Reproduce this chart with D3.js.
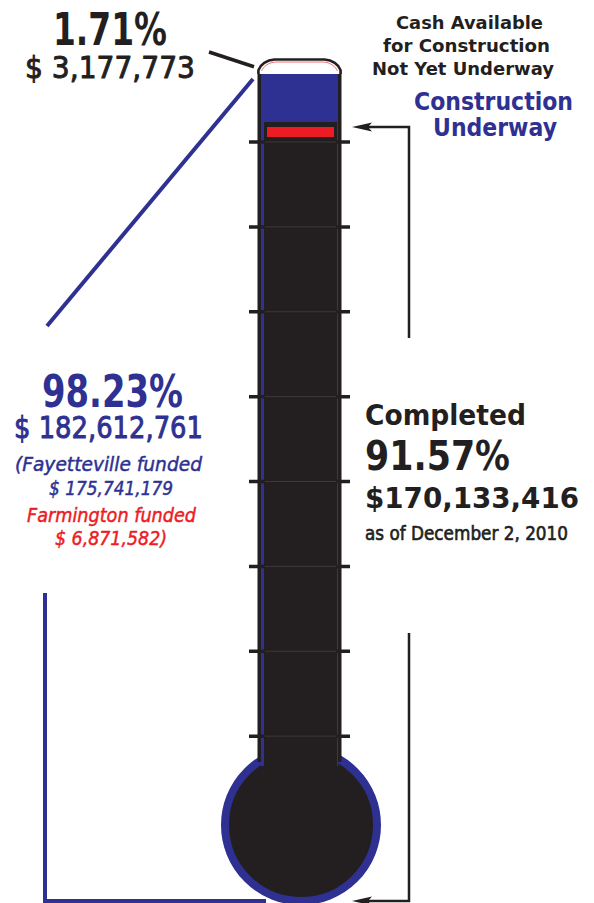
<!DOCTYPE html>
<html><head><meta charset="utf-8">
<script src="https://cdn.jsdelivr.net/npm/d3@7"></script>
<style>html,body{margin:0;padding:0;background:#fff;} svg{display:block;}</style>
</head><body>
<script>
// ---- data ----
const segmentNames = ["Completed", "Construction Underway", "Cash Available for Construction Not Yet Underway"];
const segmentLines = [["Completed"], ["Construction", "Underway"], ["Cash Available", "for Construction", "Not Yet Underway"]];
const segmentPercents = [91.57, 6.66, 1.71];
const segmentAmounts = [170133416, 12479345, 3177773];
const fundedPercent = 98.23;
const fundedAmount = 182612761;
const funderNames = ["Fayetteville", "Farmington"];
const funderAmounts = [175741179, 6871582];
const asOfDate = "December 2, 2010";
const tickSteps = [1, 2, 3, 4, 5, 6, 7, 8];

// ---- setup ----
const W = 594, H = 903;
const DARK = "#231f20", BLUE = "#2e3192", RED = "#ed1c24";
const FONT = "'DejaVu Sans', Verdana, sans-serif";
const fmt = d3.format(",");
const pct = v => d3.format(".2f")(v) + "%";

const svg = d3.select("body").append("svg").attr("width", W).attr("height", H);

const completed = segmentPercents[0];
// thermometer level scale (value % -> y pixel)
const yLevel = d3.scaleLinear().domain([0, completed, fundedPercent, 100]).range([904, 122, 72, 59.5]);
// tick scale along the tube
const yTick = d3.scaleLinear().domain([0, 8]).range([821, 142]);

const tubeL = 257.5, tubeR = 341.5, innerL = 264, innerR = 336;
const bulb = {cx: 301, cy: 825, r: 76};
const tubeBottom = 762;

// bulb
svg.append("circle").attr("cx", bulb.cx).attr("cy", bulb.cy).attr("r", bulb.r)
  .attr("fill", DARK).attr("stroke", BLUE).attr("stroke-width", 8);

// tube outer dark border
svg.append("rect").attr("x", tubeL).attr("y", yLevel(fundedPercent) - 2)
  .attr("width", tubeR - tubeL).attr("height", tubeBottom - yLevel(fundedPercent) + 2).attr("fill", DARK);
// blue funded fill
svg.append("rect").attr("x", tubeL + 3.5).attr("y", yLevel(fundedPercent))
  .attr("width", tubeR - tubeL - 7).attr("height", tubeBottom - yLevel(fundedPercent) + 4).attr("fill", BLUE);
// completed dark column
svg.append("rect").attr("x", innerL).attr("y", yLevel(completed))
  .attr("width", innerR - innerL + 1).attr("height", 800 - yLevel(completed)).attr("fill", DARK);
// underway red bar
svg.append("rect").attr("x", innerL + 3).attr("y", yLevel(completed) + 5)
  .attr("width", innerR - innerL - 5).attr("height", 10).attr("fill", RED);

// ticks
svg.append("g").selectAll("line").data(tickSteps).join("line")
  .attr("x1", 249).attr("x2", 350).attr("y1", d => yTick(d)).attr("y2", d => yTick(d))
  .attr("stroke", DARK).attr("stroke-width", 3.5);
svg.append("g").selectAll("line").data(tickSteps).join("line")
  .attr("x1", innerL + 1).attr("x2", innerR).attr("y1", d => yTick(d)).attr("y2", d => yTick(d))
  .attr("stroke", "#3d393a").attr("stroke-width", 1);

// cap (cash available, unspent)
const capTop = yLevel(100), capBot = yLevel(fundedPercent);
svg.append("path")
  .attr("d", `M${tubeL + 1},${capBot + 2} L${tubeL + 1},${capBot - 2} C${tubeL + 3},${capTop + 5} ${tubeL + 9},${capTop + 0.5} ${tubeL + 17},${capTop} L${tubeR - 17},${capTop} C${tubeR - 9},${capTop + 0.5} ${tubeR - 3},${capTop + 5} ${tubeR - 1},${capBot - 2} L${tubeR - 1},${capBot + 2}`)
  .attr("fill", "#fff").attr("stroke", DARK).attr("stroke-width", 2.5);
svg.append("path")
  .attr("d", `M${tubeL + 4},${capBot - 1} C${tubeL + 6},${capTop + 7} ${tubeL + 11},${capTop + 3} ${tubeL + 18},${capTop + 2.5} L${tubeR - 18},${capTop + 2.5} C${tubeR - 11},${capTop + 3} ${tubeR - 6},${capTop + 7} ${tubeR - 4},${capBot - 1}`)
  .attr("fill", "none").attr("stroke", RED).attr("stroke-width", 0.8).attr("opacity", 0.8);

// ---- pointers ----
// black pointer to cap
svg.append("line").attr("x1", 209).attr("y1", 52).attr("x2", 254).attr("y2", (capTop + capBot) / 2 + 1)
  .attr("stroke", DARK).attr("stroke-width", 3.5);
// blue diagonal to funded level
svg.append("line").attr("x1", 253).attr("y1", yLevel(fundedPercent) + 7).attr("x2", 47).attr("y2", 326)
  .attr("stroke", BLUE).attr("stroke-width", 4);
// blue L to bottom
svg.append("path").attr("d", `M45,593 L45,${yLevel(0) - 3} L266,${yLevel(0) - 3}`)
  .attr("fill", "none").attr("stroke", BLUE).attr("stroke-width", 4);

// right bracket with arrows
const arrowY = yLevel(completed) + 5;
const botY = yLevel(0) - 3;
svg.append("path").attr("d", `M368,${arrowY} L409,${arrowY} L409,338`)
  .attr("fill", "none").attr("stroke", DARK).attr("stroke-width", 2.5);
svg.append("path").attr("d", `M409,633 L409,${botY} L368,${botY}`)
  .attr("fill", "none").attr("stroke", DARK).attr("stroke-width", 2.5);
[arrowY, botY].forEach(y => {
  svg.append("path").attr("d", `M352,${y} L372,${y - 4.5} L368,${y} L372,${y + 4.5} Z`).attr("fill", DARK);
});

// ---- text ----
function txt(x, y, s, size, len, opts = {}) {
  const fill = opts.fill || DARK;
  const t = svg.append("text").attr("x", x).attr("y", y).text(s)
    .attr("font-family", FONT).attr("font-size", size)
    .attr("font-weight", opts.weight || "normal")
    .attr("font-style", opts.style || "normal")
    .attr("fill", fill)
    .attr("textLength", len).attr("lengthAdjust", "spacingAndGlyphs");
  if (opts.thick) t.attr("stroke", fill).attr("stroke-width", opts.thick).attr("stroke-linejoin", "round");
  return t;
}

// cash available
txt(53, 45, pct(segmentPercents[2]), 44, 114, {weight: "bold"});
txt(25, 78, "$ " + fmt(segmentAmounts[2]), 31, 170, {thick: 1});
const cashPos = [[396, 29, 147], [383, 52, 167], [372, 75, 182]];
segmentLines[2].forEach((l, i) => txt(cashPos[i][0], cashPos[i][1], l, 18, cashPos[i][2], {weight: "bold"}));

// construction underway
const undPos = [[414, 110, 159], [433, 136, 124]];
segmentLines[1].forEach((l, i) => txt(undPos[i][0], undPos[i][1], l, 25, undPos[i][2], {weight: "bold", fill: BLUE}));

// funded
txt(42, 407, pct(fundedPercent), 44, 141, {weight: "bold", fill: BLUE});
txt(14, 438, "$ " + fmt(fundedAmount), 31, 189, {fill: BLUE, thick: 1});
txt(15, 471, "(" + funderNames[0] + " funded", 20, 187, {style: "italic", fill: BLUE, thick: 0.5});
txt(49, 495, "$ " + fmt(funderAmounts[0]), 20, 124, {style: "italic", fill: BLUE, thick: 0.5});
txt(27, 522, funderNames[1] + " funded", 20, 169, {style: "italic", fill: RED, thick: 0.5});
txt(55, 545, "$ " + fmt(funderAmounts[1]) + ")", 20, 112, {style: "italic", fill: RED, thick: 0.5});

// completed
txt(365, 425, segmentLines[0][0], 28, 161, {weight: "bold"});
txt(365, 470, pct(completed), 41, 145, {weight: "bold"});
txt(365, 508, "$" + fmt(segmentAmounts[0]), 29, 214, {weight: "bold"});
txt(365, 540, "as of " + asOfDate, 20, 203, {thick: 0.7});
</script>
</body></html>
